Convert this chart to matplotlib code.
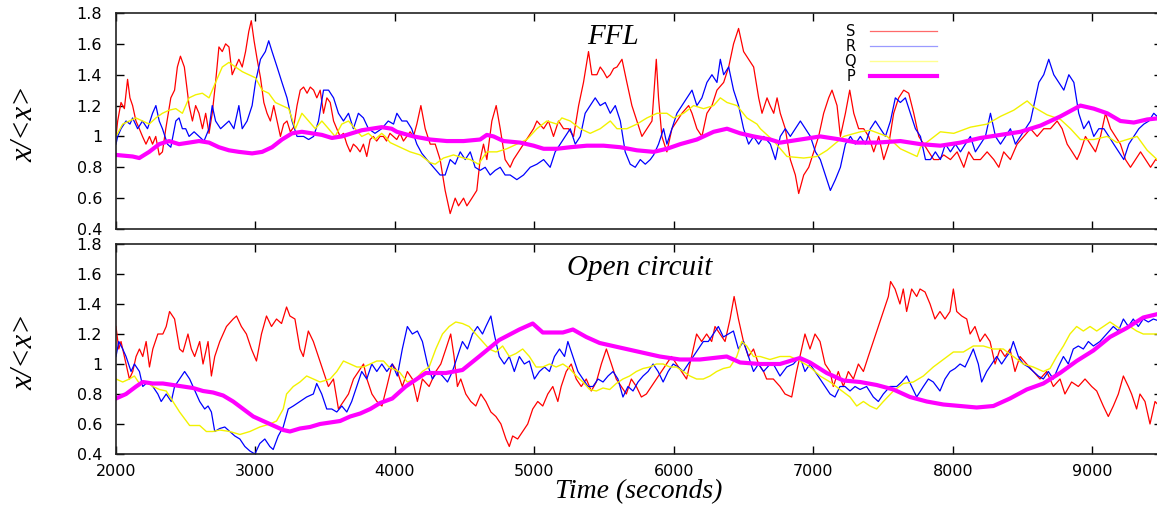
import matplotlib
matplotlib.use('Agg')
import matplotlib.pyplot as plt
from matplotlib.lines import Line2D

# (time, x/<x>)
top_S = [(2000,1.00),(2012,1.10),(2036,1.22),(2060,1.18),(2083,1.37),(2100,1.25),(2119,1.20),(2143,1.10),
         (2167,1.05),(2190,1.00),(2215,0.95),(2240,1.00),(2262,0.95),(2285,1.00),(2310,0.88),(2333,0.90),
         (2357,1.05),(2393,1.25),(2420,1.30),(2440,1.45),(2462,1.52),(2490,1.45),(2524,1.20),(2548,1.10),
         (2571,1.20),(2595,1.15),(2620,1.05),(2643,1.15),(2667,1.02),(2690,1.15),(2714,1.35),(2738,1.58),
         (2762,1.55),(2786,1.60),(2810,1.58),(2833,1.40),(2857,1.45),(2881,1.50),(2905,1.45),(2929,1.55),
         (2952,1.68),(2970,1.75),(2990,1.62),(3012,1.50),(3036,1.38),(3060,1.22),(3083,1.15),(3107,1.10),
         (3131,1.20),(3155,1.10),(3179,1.00),(3202,1.08),(3226,1.10),(3250,1.03),(3274,1.06),(3298,1.20),
         (3321,1.30),(3345,1.32),(3370,1.28),(3393,1.32),(3417,1.30),(3440,1.25),(3464,1.30),(3488,1.15),
         (3512,1.25),(3536,1.22),(3560,1.10),(3583,1.05),(3607,1.00),(3631,1.02),(3655,0.95),(3679,0.90),
         (3702,0.95),(3726,0.93),(3750,0.90),(3774,0.95),(3798,0.87),(3822,0.98),(3845,1.00),(3869,0.97),
         (3893,1.00),(3917,1.00),(3940,0.97),(3964,1.02),(3988,1.00),(4013,0.98),(4037,1.02),(4061,0.97),
         (4085,1.00),(4109,1.03),(4133,1.00),(4157,1.08),(4186,1.20),(4217,1.05),(4253,0.95),(4289,0.95),
         (4324,0.85),(4360,0.65),(4396,0.50),(4432,0.60),(4456,0.55),(4492,0.60),(4516,0.55),(4552,0.60),
         (4587,0.65),(4611,0.85),(4635,0.95),(4659,0.85),(4695,1.10),(4726,1.20),(4755,1.05),(4790,0.85),
         (4826,0.80),(4850,0.85),(4886,0.90),(4922,0.95),(4958,1.00),(4994,1.05),(5018,1.10),(5066,1.05),
         (5101,1.10),(5137,1.00),(5173,1.10),(5209,1.05),(5245,1.05),(5281,1.00),(5317,1.20),(5352,1.35),
         (5388,1.55),(5412,1.40),(5448,1.40),(5472,1.45),(5496,1.42),(5520,1.38),(5544,1.40),(5568,1.44),
         (5592,1.45),(5628,1.50),(5663,1.35),(5699,1.20),(5735,1.10),(5771,1.00),(5807,1.05),(5843,1.10),
         (5874,1.50),(5890,1.25),(5914,1.00),(5950,0.90),(5986,1.05),(6022,1.10),(6058,1.15),(6106,1.20),
         (6130,1.15),(6165,1.05),(6201,1.00),(6237,1.15),(6273,1.20),(6309,1.30),(6357,1.35),(6393,1.45),
         (6428,1.60),(6464,1.70),(6500,1.55),(6536,1.50),(6572,1.45),(6608,1.25),(6632,1.15),(6668,1.25),
         (6690,1.20),(6716,1.15),(6740,1.25),(6763,1.15),(6799,1.05),(6835,0.85),(6871,0.75),(6895,0.63),
         (6931,0.75),(6967,0.80),(7003,0.90),(7038,1.00),(7074,1.15),(7110,1.25),(7134,1.30),(7170,1.20),
         (7194,1.00),(7230,1.15),(7261,1.30),(7290,1.15),(7325,1.05),(7361,1.05),(7397,1.00),(7433,0.90),
         (7469,1.00),(7505,0.85),(7541,0.95),(7576,1.15),(7612,1.25),(7648,1.30),(7684,1.28),(7720,1.15),
         (7756,1.00),(7792,0.95),(7827,0.90),(7863,0.85),(7899,0.85),(7935,0.88),(7983,0.85),(8031,0.90),
         (8079,0.80),(8114,0.90),(8150,0.85),(8198,0.85),(8246,0.90),(8294,0.85),(8330,0.80),(8365,0.90),
         (8413,0.85),(8461,0.95),(8509,1.00),(8557,1.05),(8605,1.00),(8652,1.05),(8700,1.05),(8748,1.10),
         (8784,1.05),(8820,0.95),(8856,0.90),(8891,0.85),(8915,0.90),(8951,1.00),(8987,0.95),(9023,0.90),
         (9059,1.00),(9095,1.15),(9131,1.05),(9166,1.00),(9202,0.95),(9238,0.85),(9274,0.80),(9310,0.85),
         (9346,0.90),(9382,0.85),(9418,0.80),(9454,0.85),(9500,0.83)]

top_R = [(2000,0.95),(2012,1.00),(2036,1.05),(2072,1.10),(2100,1.08),(2119,1.12),(2155,1.05),(2190,1.10),
         (2226,1.05),(2262,1.15),(2286,1.20),(2310,1.10),(2333,1.05),(2369,0.95),(2393,0.93),(2429,1.10),
         (2452,1.12),(2476,1.05),(2500,1.05),(2524,1.00),(2560,1.03),(2595,1.00),(2631,0.97),(2667,1.05),
         (2690,1.20),(2714,1.10),(2750,1.05),(2786,1.08),(2810,1.10),(2845,1.05),(2881,1.20),(2905,1.05),
         (2940,1.10),(2976,1.20),(3000,1.35),(3036,1.50),(3071,1.55),(3095,1.62),(3119,1.55),(3155,1.45),
         (3190,1.35),(3226,1.25),(3262,1.10),(3298,1.00),(3345,1.00),(3381,0.98),(3417,1.00),(3452,1.10),
         (3488,1.30),(3524,1.30),(3560,1.25),(3595,1.15),(3631,1.10),(3667,1.15),(3702,1.05),(3738,1.15),
         (3774,1.12),(3810,1.05),(3857,1.02),(3905,1.05),(3952,1.10),(3990,1.08),(4014,1.15),(4050,1.10),
         (4085,1.10),(4120,1.05),(4157,0.95),(4193,0.89),(4229,0.85),(4277,0.80),(4324,0.75),(4360,0.75),
         (4396,0.85),(4432,0.82),(4468,0.90),(4504,0.85),(4540,0.90),(4575,0.80),(4611,0.78),(4647,0.80),
         (4683,0.75),(4719,0.78),(4755,0.80),(4790,0.75),(4826,0.75),(4874,0.72),(4922,0.75),(4970,0.80),
         (5018,0.82),(5066,0.85),(5113,0.80),(5149,0.90),(5185,0.95),(5221,1.00),(5257,1.05),(5293,0.95),
         (5329,1.00),(5364,1.15),(5400,1.20),(5436,1.25),(5472,1.20),(5508,1.22),(5544,1.15),(5580,1.20),
         (5616,1.10),(5651,0.90),(5687,0.82),(5723,0.80),(5759,0.85),(5795,0.82),(5831,0.85),(5855,0.88),
         (5890,0.95),(5926,1.05),(5950,0.95),(5986,1.05),(6022,1.15),(6058,1.20),(6094,1.25),(6130,1.30),
         (6165,1.20),(6201,1.25),(6237,1.35),(6273,1.40),(6309,1.35),(6333,1.50),(6357,1.40),(6393,1.45),
         (6428,1.30),(6464,1.20),(6500,1.05),(6536,0.95),(6572,1.00),(6608,0.95),(6644,1.00),(6692,0.95),
         (6728,0.85),(6763,1.00),(6799,1.05),(6835,1.00),(6871,1.05),(6907,1.10),(6943,1.05),(6979,1.00),
         (7015,0.90),(7050,0.85),(7086,0.75),(7122,0.65),(7158,0.72),(7194,0.80),(7230,0.95),(7266,1.00),
         (7301,0.95),(7337,1.00),(7373,0.95),(7409,1.05),(7445,1.10),(7481,1.05),(7517,1.00),(7553,1.10),
         (7588,1.25),(7624,1.22),(7660,1.25),(7696,1.15),(7732,1.05),(7768,1.00),(7804,0.85),(7840,0.85),
         (7875,0.90),(7911,0.85),(7947,0.95),(7983,0.90),(8019,0.95),(8055,0.90),(8090,0.95),(8126,1.00),
         (8162,0.90),(8198,0.95),(8234,1.00),(8270,1.15),(8306,1.00),(8342,0.95),(8378,1.00),(8413,1.05),
         (8449,0.95),(8485,1.00),(8521,1.05),(8557,1.10),(8581,1.20),(8617,1.35),(8652,1.40),(8688,1.50),
         (8724,1.40),(8760,1.35),(8796,1.30),(8832,1.40),(8868,1.35),(8903,1.15),(8939,1.05),(8975,1.10),
         (9011,1.00),(9047,1.05),(9083,1.05),(9119,1.00),(9154,0.95),(9190,0.90),(9226,0.85),(9262,0.95),
         (9298,1.00),(9334,1.05),(9370,1.08),(9406,1.10),(9441,1.15),(9500,1.10)]

top_Q = [(2000,1.00),(2048,1.08),(2095,1.10),(2143,1.12),(2190,1.10),(2238,1.08),(2286,1.12),(2333,1.15),
         (2381,1.17),(2429,1.18),(2476,1.15),(2524,1.25),(2571,1.27),(2619,1.28),(2667,1.25),(2714,1.35),
         (2762,1.45),(2810,1.48),(2857,1.45),(2905,1.42),(2952,1.40),(3000,1.38),(3048,1.30),(3095,1.28),
         (3143,1.22),(3190,1.20),(3238,1.18),(3286,1.05),(3333,1.15),(3381,1.10),(3429,1.05),(3476,1.10),
         (3524,1.05),(3571,1.00),(3619,1.08),(3667,1.10),(3714,1.05),(3762,1.00),(3810,1.02),(3857,0.98),
         (3905,1.02),(3930,1.00),(3966,0.96),(4037,0.93),(4109,0.90),(4181,0.88),(4253,0.83),(4289,0.82),
         (4348,0.86),(4420,0.88),(4492,0.86),(4540,0.85),(4599,0.82),(4659,0.90),(4731,0.90),(4802,0.92),
         (4874,0.95),(4946,0.98),(5018,1.05),(5089,1.10),(5161,1.08),(5197,1.12),(5257,1.10),(5329,1.05),
         (5400,1.02),(5472,1.05),(5544,1.10),(5592,1.05),(5663,1.05),(5735,1.08),(5807,1.12),(5879,1.15),
         (5950,1.15),(5998,1.12),(6070,1.15),(6142,1.20),(6213,1.18),(6285,1.20),(6333,1.25),(6381,1.22),
         (6452,1.20),(6524,1.12),(6596,1.08),(6620,1.05),(6716,0.97),(6811,0.87),(6931,0.86),(7026,0.87),
         (7098,0.91),(7218,1.00),(7337,1.03),(7409,1.04),(7529,1.00),(7624,0.92),(7744,0.87),(7768,0.93),
         (7911,1.03),(8007,1.02),(8126,1.06),(8246,1.08),(8342,1.13),(8437,1.17),(8533,1.23),(8581,1.19),
         (8676,1.14),(8772,1.11),(8844,1.05),(8915,0.98),(9011,0.98),(9107,1.00),(9178,0.96),(9250,0.98),
         (9322,1.00),(9394,0.91),(9465,0.85),(9500,0.84)]

top_P = [(2000,0.88),(2119,0.87),(2167,0.86),(2238,0.90),(2310,0.95),(2381,0.97),(2452,0.95),(2524,0.96),
         (2595,0.97),(2667,0.96),(2738,0.93),(2810,0.91),(2881,0.90),(2976,0.89),(3048,0.90),(3119,0.93),
         (3190,0.98),(3262,1.02),(3333,1.03),(3405,1.02),(3476,1.01),(3548,0.99),(3619,1.00),(3690,1.02),
         (3762,1.04),(3833,1.05),(3905,1.06),(3976,1.05),(4014,1.03),(4133,1.00),(4253,0.98),(4372,0.97),
         (4492,0.97),(4611,0.98),(4659,1.01),(4707,1.00),(4779,0.97),(4898,0.96),(4994,0.94),(5066,0.92),
         (5161,0.92),(5257,0.93),(5376,0.94),(5496,0.94),(5616,0.93),(5735,0.91),(5855,0.90),(5950,0.92),
         (6046,0.95),(6165,0.98),(6285,1.03),(6381,1.05),(6476,1.02),(6572,1.00),(6691,0.98),(6763,0.96),
         (6907,0.98),(7050,1.00),(7194,0.98),(7313,0.96),(7457,0.96),(7624,0.97),(7768,0.95),(7911,0.94),
         (8055,0.96),(8198,0.99),(8342,1.01),(8485,1.03),(8628,1.07),(8772,1.13),(8915,1.20),(9011,1.18),
         (9107,1.15),(9202,1.10),(9298,1.09),(9394,1.11),(9500,1.12)]

bot_S = [(2000,1.25),(2020,1.10),(2036,1.15),(2060,1.05),(2096,0.90),(2120,0.95),(2144,1.05),(2168,1.10),
         (2192,1.05),(2216,1.15),(2240,0.98),(2264,1.10),(2300,1.20),(2336,1.20),(2360,1.25),(2384,1.35),
         (2420,1.30),(2456,1.10),(2480,1.08),(2516,1.20),(2540,1.10),(2564,1.05),(2600,1.15),(2624,1.00),
         (2660,1.15),(2684,0.92),(2708,1.05),(2744,1.15),(2792,1.25),(2840,1.30),(2864,1.32),(2899,1.25),
         (2935,1.20),(2971,1.10),(3007,1.02),(3043,1.20),(3079,1.32),(3115,1.25),(3151,1.30),(3187,1.27),
         (3223,1.38),(3247,1.32),(3283,1.30),(3319,1.10),(3343,1.05),(3379,1.22),(3415,1.15),(3451,1.05),
         (3487,0.95),(3523,0.85),(3559,0.90),(3595,0.70),(3631,0.75),(3667,0.80),(3703,0.90),(3739,0.95),
         (3775,1.00),(3799,0.90),(3835,0.80),(3871,0.75),(3907,0.72),(3942,0.85),(3981,1.00),(4017,0.95),
         (4053,0.85),(4089,0.95),(4125,0.90),(4161,0.75),(4197,0.90),(4245,0.85),(4293,0.95),(4329,1.00),
         (4365,1.10),(4400,1.20),(4424,1.05),(4448,0.85),(4472,0.90),(4508,0.80),(4544,0.75),(4580,0.72),
         (4616,0.80),(4652,0.75),(4688,0.68),(4724,0.65),(4760,0.60),(4796,0.50),(4820,0.45),(4844,0.52),
         (4880,0.50),(4916,0.55),(4952,0.60),(4988,0.70),(5024,0.75),(5060,0.72),(5096,0.80),(5132,0.85),
         (5168,0.75),(5192,0.85),(5228,0.95),(5264,1.00),(5300,0.90),(5336,0.85),(5372,0.90),(5408,0.82),
         (5444,0.88),(5480,1.00),(5516,1.10),(5552,1.00),(5587,0.90),(5623,0.85),(5659,0.80),(5695,0.90),
         (5731,0.85),(5767,0.78),(5803,0.80),(5839,0.85),(5875,0.90),(5911,0.95),(5947,1.00),(5983,1.05),
         (6019,1.00),(6055,0.95),(6091,0.90),(6127,1.05),(6163,1.20),(6199,1.15),(6235,1.20),(6271,1.15),
         (6295,1.25),(6331,1.20),(6367,1.15),(6403,1.30),(6432,1.45),(6463,1.30),(6499,1.15),(6535,1.05),
         (6571,1.10),(6607,1.00),(6643,0.95),(6665,0.90),(6713,0.90),(6761,0.85),(6797,0.80),(6845,0.78),
         (6880,0.95),(6916,1.10),(6940,1.20),(6976,1.10),(7012,1.20),(7048,1.15),(7084,1.00),(7120,0.95),
         (7143,0.85),(7179,0.95),(7215,0.85),(7251,0.95),(7287,0.90),(7323,1.00),(7359,0.95),(7394,1.05),
         (7430,1.15),(7466,1.25),(7502,1.35),(7538,1.45),(7554,1.55),(7586,1.50),(7621,1.40),(7645,1.50),
         (7669,1.35),(7705,1.50),(7741,1.45),(7765,1.50),(7801,1.48),(7837,1.40),(7872,1.30),(7908,1.35),
         (7944,1.30),(7980,1.35),(8004,1.50),(8028,1.35),(8064,1.32),(8100,1.30),(8124,1.20),(8159,1.25),
         (8195,1.15),(8231,1.20),(8267,1.15),(8303,1.00),(8339,1.10),(8374,1.05),(8410,1.10),(8446,0.95),
         (8482,1.05),(8530,1.00),(8577,0.95),(8625,0.90),(8673,0.95),(8721,0.85),(8769,0.90),(8804,0.80),
         (8852,0.88),(8900,0.85),(8948,0.90),(8996,0.85),(9032,0.82),(9079,0.72),(9115,0.65),(9151,0.72),
         (9187,0.80),(9223,0.92),(9259,0.85),(9282,0.80),(9318,0.70),(9342,0.80),(9378,0.75),(9414,0.60),
         (9450,0.75),(9500,0.70)]

bot_R = [(2000,1.05),(2020,1.15),(2048,1.10),(2072,1.05),(2108,0.95),(2132,1.00),(2168,0.95),(2192,0.85),
         (2228,0.88),(2264,0.85),(2300,0.80),(2324,0.75),(2360,0.80),(2396,0.75),(2420,0.85),(2456,0.90),
         (2492,0.95),(2528,0.90),(2552,0.85),(2576,0.80),(2600,0.75),(2636,0.70),(2660,0.72),(2684,0.68),
         (2708,0.55),(2744,0.57),(2780,0.58),(2816,0.55),(2852,0.52),(2888,0.50),(2924,0.45),(2960,0.42),
         (2996,0.40),(3031,0.47),(3067,0.50),(3103,0.45),(3127,0.43),(3163,0.52),(3199,0.58),(3235,0.70),
         (3271,0.72),(3319,0.75),(3367,0.78),(3415,0.80),(3439,0.87),(3475,0.80),(3511,0.70),(3547,0.70),
         (3583,0.68),(3619,0.72),(3655,0.68),(3690,0.75),(3726,0.85),(3762,0.95),(3798,0.90),(3834,1.00),
         (3870,0.95),(3906,1.00),(3942,0.95),(3981,1.00),(4017,0.92),(4053,1.10),(4089,1.25),(4125,1.20),
         (4161,1.22),(4197,1.15),(4233,1.00),(4269,0.90),(4305,0.95),(4341,0.92),(4377,0.88),(4412,0.95),
         (4448,1.05),(4484,1.15),(4520,1.10),(4556,1.20),(4592,1.25),(4628,1.20),(4652,1.25),(4688,1.32),
         (4712,1.20),(4748,1.05),(4784,1.00),(4820,1.05),(4856,0.95),(4892,1.05),(4928,1.00),(4964,1.02),
         (5000,0.90),(5036,0.95),(5072,0.98),(5108,0.95),(5144,1.05),(5180,1.10),(5216,1.05),(5240,1.15),
         (5276,1.05),(5312,0.95),(5348,0.90),(5384,0.85),(5420,0.85),(5456,0.90),(5492,0.88),(5528,0.92),
         (5564,0.95),(5599,0.90),(5635,0.78),(5671,0.85),(5707,0.82),(5743,0.88),(5779,0.92),(5815,0.95),
         (5851,1.00),(5887,0.95),(5923,0.88),(5959,0.95),(5995,1.00),(6031,0.98),(6067,0.95),(6103,1.00),
         (6139,1.05),(6175,1.10),(6211,1.15),(6247,1.15),(6283,1.20),(6319,1.25),(6355,1.18),(6391,1.20),
         (6427,1.22),(6463,1.10),(6499,1.15),(6535,1.05),(6571,0.95),(6607,1.00),(6643,0.95),(6691,1.00),
         (6713,1.00),(6761,0.92),(6809,0.98),(6857,1.00),(6904,1.05),(6940,0.95),(6976,1.00),(7012,0.95),
         (7048,0.90),(7084,0.85),(7120,0.80),(7155,0.78),(7191,0.85),(7227,0.85),(7263,0.82),(7299,0.85),
         (7335,0.83),(7382,0.85),(7430,0.78),(7466,0.75),(7502,0.80),(7550,0.85),(7598,0.85),(7633,0.88),
         (7669,0.92),(7705,0.85),(7741,0.78),(7789,0.85),(7825,0.90),(7860,0.88),(7908,0.82),(7944,0.90),
         (7980,0.95),(8016,0.97),(8052,1.00),(8088,0.98),(8123,1.05),(8147,1.10),(8183,1.00),(8207,0.88),
         (8243,0.95),(8279,1.00),(8315,1.05),(8350,1.00),(8386,1.05),(8410,1.08),(8434,1.15),(8470,1.05),
         (8506,1.00),(8542,0.98),(8577,0.95),(8613,0.92),(8649,0.90),(8685,0.95),(8721,0.90),(8757,0.98),
         (8793,1.05),(8828,1.00),(8864,1.10),(8900,1.12),(8936,1.10),(8972,1.15),(9008,1.12),(9055,1.15),
         (9103,1.20),(9151,1.25),(9187,1.22),(9223,1.30),(9259,1.25),(9294,1.30),(9330,1.25),(9366,1.30),
         (9402,1.28),(9438,1.30),(9500,1.28)]

bot_Q = [(2000,0.90),(2048,0.88),(2096,0.90),(2132,0.92),(2168,0.87),(2216,0.88),(2264,0.85),(2312,0.83),
         (2360,0.82),(2408,0.75),(2456,0.68),(2504,0.62),(2528,0.59),(2600,0.59),(2648,0.55),(2696,0.55),
         (2744,0.56),(2816,0.55),(2888,0.53),(2960,0.55),(3031,0.58),(3103,0.60),(3151,0.62),(3199,0.70),
         (3223,0.80),(3271,0.85),(3319,0.88),(3367,0.92),(3415,0.90),(3463,0.88),(3535,0.90),(3583,0.95),
         (3631,1.02),(3679,1.00),(3727,0.98),(3775,0.98),(3823,1.00),(3870,1.02),(3918,1.02),(3957,0.98),
         (4029,0.95),(4089,0.88),(4149,0.90),(4197,0.95),(4245,0.98),(4293,1.10),(4341,1.20),(4389,1.25),
         (4436,1.28),(4484,1.27),(4532,1.25),(4580,1.20),(4628,1.15),(4676,1.10),(4724,1.08),(4772,1.12),
         (4820,1.05),(4868,1.07),(4916,1.10),(4964,1.05),(5012,0.98),(5060,0.98),(5108,1.00),(5156,0.98),
         (5204,1.00),(5252,0.97),(5300,0.92),(5348,0.88),(5396,0.83),(5444,0.82),(5492,0.84),(5540,0.83),
         (5587,0.87),(5635,0.90),(5683,0.92),(5731,0.95),(5779,0.97),(5827,0.98),(5875,1.00),(5923,1.00),
         (5971,0.98),(6019,0.98),(6067,0.95),(6115,0.92),(6163,0.90),(6211,0.90),(6259,0.92),(6307,0.95),
         (6355,0.97),(6403,0.98),(6451,1.05),(6487,1.15),(6523,1.12),(6571,1.05),(6619,1.05),(6689,1.03),
         (6761,1.05),(6833,1.05),(6904,1.02),(6976,0.98),(7048,0.92),(7120,0.88),(7191,0.83),(7263,0.78),
         (7311,0.72),(7359,0.75),(7406,0.72),(7454,0.70),(7502,0.75),(7574,0.82),(7645,0.87),(7717,0.88),
         (7789,0.92),(7860,0.98),(7932,1.03),(8004,1.08),(8076,1.08),(8147,1.12),(8219,1.12),(8291,1.10),
         (8362,1.10),(8434,1.05),(8506,1.00),(8577,0.98),(8649,0.95),(8697,0.97),(8745,1.05),(8793,1.12),
         (8840,1.20),(8888,1.25),(8936,1.22),(8984,1.25),(9032,1.22),(9079,1.25),(9127,1.28),(9175,1.25),
         (9223,1.22),(9270,1.25),(9318,1.22),(9366,1.20),(9414,1.20),(9500,1.20)]

bot_P = [(2000,0.77),(2072,0.80),(2144,0.85),(2192,0.88),(2264,0.87),(2336,0.87),(2408,0.86),(2480,0.85),
         (2552,0.84),(2624,0.82),(2696,0.81),(2768,0.79),(2840,0.75),(2912,0.70),(2984,0.65),(3055,0.62),
         (3127,0.59),(3199,0.56),(3247,0.55),(3319,0.57),(3391,0.58),(3463,0.60),(3535,0.61),(3607,0.62),
         (3679,0.65),(3751,0.67),(3823,0.70),(3894,0.74),(3981,0.77),(4077,0.85),(4221,0.94),(4365,0.94),
         (4484,0.96),(4604,1.05),(4748,1.16),(4892,1.23),(4988,1.27),(5060,1.21),(5204,1.21),(5276,1.23),
         (5372,1.18),(5468,1.14),(5611,1.11),(5755,1.08),(5899,1.05),(6043,1.03),(6187,1.03),(6379,1.05),
         (6475,1.01),(6619,1.00),(6761,1.00),(6904,1.04),(6976,1.01),(7096,0.94),(7215,0.89),(7335,0.88),
         (7454,0.86),(7574,0.83),(7693,0.78),(7813,0.75),(7932,0.73),(8052,0.72),(8171,0.71),(8291,0.72),
         (8410,0.77),(8530,0.83),(8649,0.87),(8769,0.94),(8888,1.02),(9008,1.09),(9127,1.18),(9247,1.24),
         (9366,1.31),(9500,1.34)]

labels = ['S', 'R', 'Q', 'P']
colors = ['#ff0000', '#0000ff', '#f2f200', '#ff00ff']
legend_colors = ['#ff6a6a', '#9a9aff', '#ffff90', '#ff00ff']
widths = [0.9, 0.9, 1.0, 3.0]
xticks = [2000, 3000, 4000, 5000, 6000, 7000, 8000, 9000]
yticks = [0.4, 0.6, 0.8, 1.0, 1.2, 1.4, 1.6, 1.8]
ytick_labels = ['0.4', '0.6', '0.8', '1', '1.2', '1.4', '1.6', '1.8']

W, H = 1157, 505
fig = plt.figure(figsize=(W / 100, H / 100), dpi=100)
ax1 = fig.add_axes([116 / W, 1 - 229 / H, 1046 / W, 216 / H])
ax2 = fig.add_axes([116 / W, 1 - 454 / H, 1046 / W, 210 / H])

serif = 'Liberation Serif'
for ax, data in [(ax1, [top_S, top_R, top_Q, top_P]), (ax2, [bot_S, bot_R, bot_Q, bot_P])]:
    for series, lab, c, lw in zip(data, labels, colors, widths):
        t = [p[0] for p in series]
        v = [p[1] for p in series]
        ax.plot(t, v, color=c, linewidth=lw, label=lab)
    ax.set_xlim(2000, 9500)
    ax.set_ylim(0.4, 1.8)
    ax.set_xticks(xticks)
    ax.set_yticks(yticks)
    ax.set_yticklabels(ytick_labels)
    ax.tick_params(direction='in', top=True, right=True, length=6, width=1,
                   labelsize=11.5, pad=10)
    for s in ax.spines.values():
        s.set_linewidth(1.2)
        s.set_color('#222222')
    for lbl in ax.get_xticklabels() + ax.get_yticklabels():
        lbl.set_family('DejaVu Sans')

ax1.tick_params(labelbottom=False)
ax2.tick_params(axis='x', pad=7)

ax1.text(0.475, 0.89, 'FFL', transform=ax1.transAxes, ha='center', va='center',
         fontsize=21, style='italic', family=serif)
ax2.text(0.501, 0.885, 'Open circuit', transform=ax2.transAxes, ha='center', va='center',
         fontsize=21, style='italic', family=serif)
fig.text(639 / W, 1 - 498 / H, 'Time (seconds)', ha='center', va='baseline',
         fontsize=20, style='italic', family=serif)

for yc in [124, 352]:
    fig.text(25 / W, 1 - yc / H, 'x/<x>', rotation=90, ha='center', va='center',
             fontsize=22, style='italic', family=serif)

handles = [Line2D([], [], color=c, linewidth=lw) for c, lw in zip(legend_colors, widths)]
ax1.legend(handles, labels, loc='upper left', bbox_to_anchor=(0.696, 0.95), frameon=False,
           markerfirst=False, handlelength=4.6, handletextpad=1.0, labelspacing=0.0,
           borderpad=0, borderaxespad=0, prop={'family': 'DejaVu Sans', 'size': 10.5})

fig.savefig('out.png', dpi=100)
